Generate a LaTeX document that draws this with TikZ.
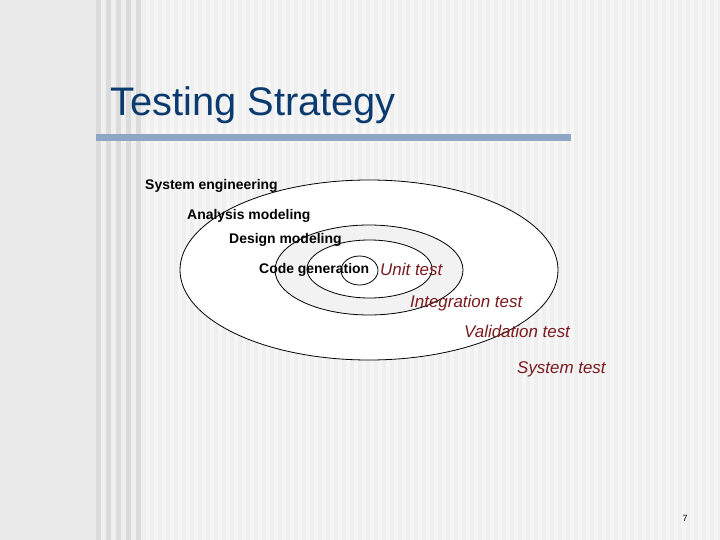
\documentclass[tikz,border=0pt]{standalone}
\usepackage{fontspec}
\setmainfont{Liberation Sans}
\usetikzlibrary{shapes.geometric}
\definecolor{titleblue}{HTML}{0B3B6E}
\definecolor{barblue}{HTML}{8DA6C3}
\definecolor{testred}{HTML}{7B1A1E}
\definecolor{slideback}{HTML}{EAEAEA}
\definecolor{stripebase}{HTML}{EFEFEF}
\definecolor{stripedark}{HTML}{DBDBDB}
\definecolor{stripelight}{HTML}{F6F6F6}
\definecolor{ringgray}{HTML}{F2F2F2}
\begin{document}
\begin{tikzpicture}[x=1bp,y=-1bp, line join=round, line cap=round,
    ring/.style={ellipse, draw, line width=0.8bp, inner sep=0pt},
    phase/.style={anchor=base west, inner sep=0pt, font=\fontsize{14}{16}\selectfont\bfseries},
    test/.style={anchor=base west, inner sep=0pt, text=testred, font=\fontsize{17}{20}\selectfont\itshape}]
    \useasboundingbox (0,0) rectangle (720,540);
    %% nen trang chieu
    \fill[slideback] (0,0) rectangle (720,540);
    \fill[stripebase] (96,0) rectangle (720,540);
    \foreach \x in {96,106,...,136} \fill[stripedark] (\x,0) rectangle ++(5,540);
    \foreach \x in {146,154,...,714} \fill[stripelight] (\x,0) rectangle ++(4,540);
    %% tieu de
    \node[anchor=base west, inner sep=0pt, text=titleblue, font=\fontsize{40}{44}\selectfont] (title) at (110,116) {Testing Strategy};
    \fill[barblue] (96,134) rectangle (571,141);
    %% cac vong
    \node[ring, fill=white, minimum width=378bp, minimum height=180bp] (sysring) at (369,270) {};
    \node[ring, fill=ringgray, minimum width=188bp, minimum height=90bp] (designring) at (369,270) {};
    \node[ring, fill=white, minimum width=125bp, minimum height=58bp] (codering) at (369.5,269) {};
    \node[ring, minimum width=37bp, minimum height=29bp] (unitring) at (359.5,270.5) {};
    %% nhan
    \node[phase] (syseng) at (145,190) {System engineering};
    \node[phase] (analysis) at (187,220) {Analysis modeling};
    \node[phase] (design) at (229,244) {Design modeling};
    \node[phase] (codegen) at (259,274) {Code generation};
    \node[test] (unittest) at (380,276) {Unit test};
    \node[test] (inttest) at (410,307) {Integration test};
    \node[test] (valtest) at (464,337) {Validation test};
    \node[test] (systest) at (517,373) {System test};
    \node[anchor=base, inner sep=0pt, font=\fontsize{9}{10}\selectfont] (pagenum) at (685,521) {7};
\end{tikzpicture}
\end{document}
